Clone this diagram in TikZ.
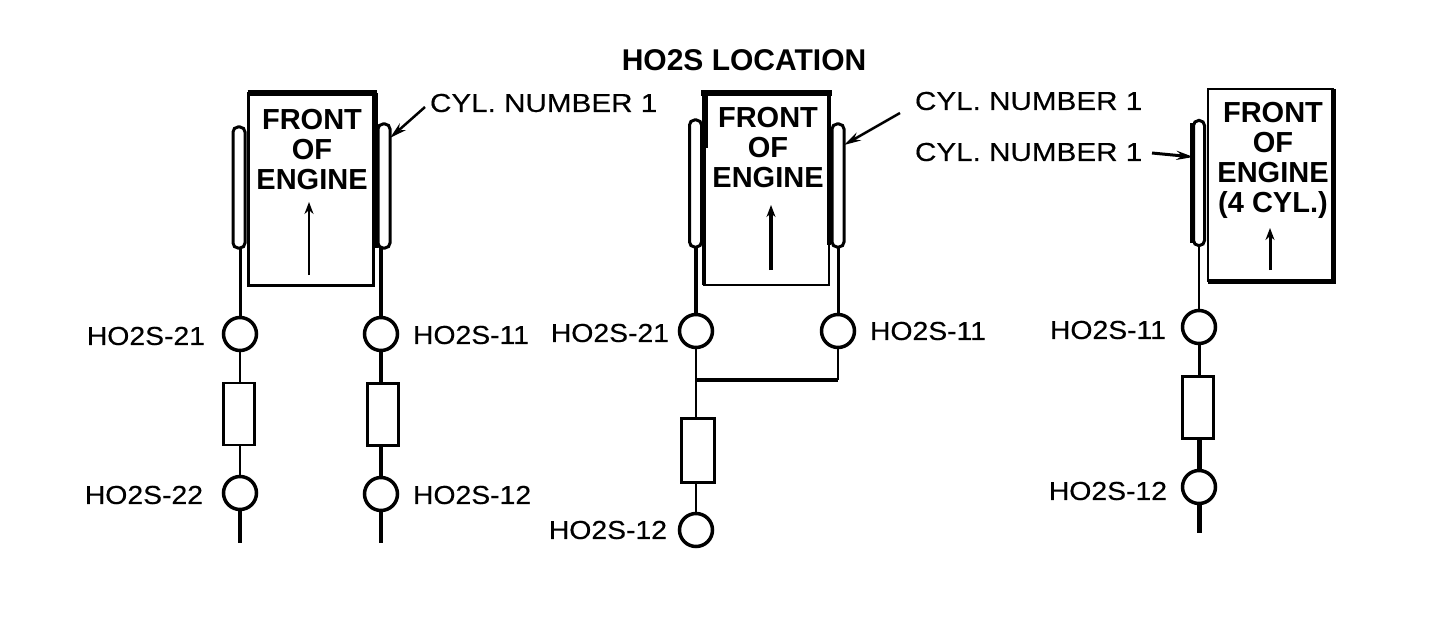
\documentclass[tikz,border=0pt]{standalone}
\usepackage{fontspec}
\setmainfont{Liberation Sans}
\newfontfamily\lab[FakeStretch=1.09,FakeBold=0.4]{Liberation Sans}
\newfontfamily\cyl[FakeStretch=1.14,FakeBold=0.4]{Liberation Sans}
\usetikzlibrary{arrows.meta}
\tikzset{
  engine/.style={draw=black,fill=white,line width=2.5pt,inner sep=0pt,outer sep=0pt,minimum width=125pt,minimum height=192pt},
  manifold/.style={draw=black,fill=white,line width=3pt,rounded corners=5pt,inner sep=0pt,outer sep=0pt,minimum width=12pt},
  sensor/.style={circle,draw=black,fill=white,line width=3.5pt,inner sep=0pt,outer sep=0pt,minimum size=33pt},
  cat/.style={draw=black,fill=white,line width=2.5pt,inner sep=0pt,outer sep=0pt,minimum width=31pt,minimum height=62pt},
  lbl/.style={inner sep=0pt,outer sep=0pt,font=\lab\fontsize{26}{26}\selectfont},
  cyllbl/.style={inner sep=0pt,outer sep=0pt,font=\cyl\fontsize{26}{26}\selectfont},
  front/.style={inner sep=0pt,outer sep=0pt,align=center,font=\bfseries\fontsize{29}{30}\selectfont},
  pipe/.style={line width=3pt},
  thinpipe/.style={line width=2.5pt},
  fatpipe/.style={line width=4.5pt},
  flow/.style={-{Stealth[length=12pt,width=9pt]},line width=2pt},
  leader/.style={-{Stealth[length=17pt,width=9pt]},line width=2.5pt},
}
\begin{document}
\begin{tikzpicture}[x=1pt,y=-1pt]
\useasboundingbox (0,0) rectangle (1451,623);
\node[inner sep=0pt,outer sep=0pt,font=\bfseries\fontsize{30}{30}\selectfont] (title) at (744,60) {HO2S LOCATION};

% ---- left group
\node[manifold,minimum height=121pt] (mal) at (239,187.5) {};
\node[manifold,minimum height=124pt] (mar) at (384,186) {};
\node[engine] (ea) at (311,189.5) {};
\draw[line width=6pt] ([xshift=-1pt]ea.north west) -- ([xshift=3pt]ea.north east);
\draw[line width=6pt] ([xshift=1pt]ea.north east) -- ([xshift=1pt,yshift=38pt]ea.south east);
\node[front] (ta) at (312,150) {FRONT\\OF\\ENGINE};
\coordinate (a1) at (309,275);
\coordinate (a2) at (309,202);
\draw[flow] (a1) -- (a2);
\node[sensor] (s21) at (240,334) {};
\node[sensor] (s11) at (381,334) {};
\node[cat] (ca1) at (239,414) {};
\node[cat,line width=3pt] (ca2) at (382.5,414) {};
\node[sensor] (s22) at (240,493) {};
\node[sensor] (s12) at (381,494) {};
\coordinate (e1) at (240,543);
\coordinate (e2) at (381,543);
\draw[pipe] (s21|-mal.south) -- (s21.north);
\draw[fatpipe] (s11|-mar.south) -- (s11.north);
\draw[thinpipe] (s21.south) -- (s21|-ca1.north);
\draw[fatpipe] (s11.south) -- (s11|-ca2.north);
\draw[thinpipe] (s21|-ca1.south) -- (s22.north);
\draw[fatpipe] (s11|-ca2.south) -- (s12.north);
\draw[fatpipe] (s22.south) -- (e1);
\draw[fatpipe] (s12.south) -- (e2);
\node[lbl,anchor=east] (l21) at (205,336) {HO2S-21};
\node[lbl,anchor=west] (l11) at (413,335) {HO2S-11};
\node[lbl,anchor=east] (l22) at (203,495) {HO2S-22};
\node[lbl,anchor=west] (l12) at (413,495) {HO2S-12};
\node[cyllbl,anchor=west] (cn1) at (430,103) {CYL. NUMBER 1};
\coordinate (la) at (425,107);
\draw[leader] (la) -- (mar.east |- 0,138);

% ---- middle group
\node[manifold,minimum height=127pt] (mbl) at (695.5,183.5) {};
\node[manifold,minimum height=123pt] (mbr) at (838,185.5) {};
\node[engine] (eb) at (766.5,189) {};
\draw[line width=6pt] ([xshift=-3pt]eb.north west) -- ([xshift=3pt]eb.north east);
\draw[line width=6pt] ([xshift=1pt]eb.north west) -- ([xshift=1pt,yshift=-55pt]eb.north west);
\draw[line width=4.5pt] (eb.north east) -- ([yshift=40pt]eb.south east);
\draw[line width=4pt] (eb.north west) -- (eb.south west);
\node[front] (tb) at (768,148) {FRONT\\OF\\ENGINE};
\coordinate (b1) at (771,270);
\coordinate (b2) at (771,205);
\draw[flow,line width=4pt] (b1) -- (b2);
\node[sensor] (s21b) at (696,331) {};
\node[sensor] (s11b) at (838,331) {};
\coordinate (jb) at (696,380);
\node[cat,minimum width=33pt,minimum height=64pt,line width=3pt] (cb) at (697.5,450.5) {};
\node[sensor] (s12b) at (696,530) {};
\draw[fatpipe] (s21b|-mbl.south) -- (s21b.north);
\draw[pipe] (s11b|-mbr.south) -- (s11b.north);
\draw[thinpipe] (s21b.south) -- (jb);
\draw[thinpipe] (jb) -- (jb|-cb.north);
\draw[fatpipe] (jb) -- (s11b.south|-jb);
\draw[thinpipe] (s11b.south) -- (s11b.south|-jb);
\draw[thinpipe] (jb|-cb.south) -- (s12b.north);
\node[lbl,anchor=east] (l21b) at (669,333) {HO2S-21};
\node[lbl,anchor=west] (l11b) at (870,331) {HO2S-11};
\node[lbl,anchor=east] (l12b) at (667,530) {HO2S-12};
\node[cyllbl,anchor=west] (cn2) at (915,101) {CYL. NUMBER 1};
\coordinate (lb) at (900,113);
\draw[leader] (lb) -- (mbr.east |- 0,145);

% ---- right group
\node[manifold,minimum height=125pt,minimum width=11pt] (mc) at (1199,183) {};
\draw[line width=4pt] ([xshift=-2pt,yshift=-3pt]mc.north west) -- ([xshift=-2pt,yshift=3pt]mc.south west);
\node[engine] (ec) at (1270.5,185) {};
\draw[line width=5pt] (ec.north east) -- (ec.south east) -- (ec.south west);
\node[front] (tc) at (1273,160) {FRONT\\OF\\ENGINE\\(4 CYL.)};
\coordinate (c1) at (1270,270);
\coordinate (c2) at (1270,228);
\draw[flow,line width=3pt] (c1) -- (c2);
\node[sensor] (s11c) at (1199,327) {};
\node[cat,minimum height=62pt,line width=3pt] (cc) at (1198,407.5) {};
\node[sensor] (s12c) at (1199,487) {};
\coordinate (ec1) at (1199,533);
\draw[thinpipe] (s11c|-mc.south) -- (s11c.north);
\draw[pipe] (s11c.south) -- (s11c|-cc.north);
\draw[line width=5pt] (s11c|-cc.south) -- (s12c.north);
\draw[line width=5pt] (s12c.south) -- (ec1);
\node[lbl,anchor=east] (l11c) at (1166,330) {HO2S-11};
\node[lbl,anchor=east] (l12c) at (1167,491) {HO2S-12};
\node[cyllbl,anchor=west] (cn3) at (915,152) {CYL. NUMBER 1};
\coordinate (lc) at (1152,153);
\draw[leader,line width=3pt] (lc) -- (mc.west |- 0,157);
\end{tikzpicture}
\end{document}
